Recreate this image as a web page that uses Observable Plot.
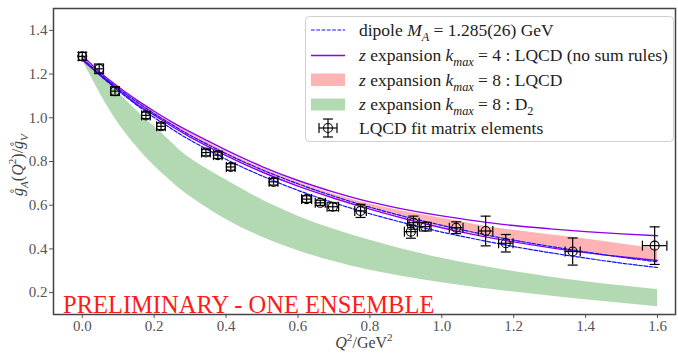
<!DOCTYPE html>
<html>
<head>
<meta charset="utf-8">
<script src="https://cdn.jsdelivr.net/npm/d3@7"></script>
<script src="https://cdn.jsdelivr.net/npm/@observablehq/plot@0.6"></script>
<style>
  html, body { margin: 0; padding: 0; background: white; }
  #chart { width: 678px; height: 354px; }
  #chart svg text, #chart svg tspan { font-family: "Liberation Serif", "Times New Roman", serif; }
</style>
</head>
<body>
<div id="chart"></div>
<script>
// ---- data ----
const q2Grid    = [0, 0.05, 0.1, 0.15, 0.2, 0.25, 0.3, 0.4, 0.5, 0.6, 0.7, 0.8, 0.9, 1.0, 1.1, 1.2, 1.3, 1.4, 1.5, 1.6];
const dipoleLo  = [1.27, 1.194, 1.124, 1.060, 1.001, 0.948, 0.898, 0.810, 0.734, 0.668, 0.611, 0.561, 0.517, 0.477, 0.443, 0.411, 0.383, 0.358, 0.335, 0.315];
const dipoleHi  = [1.27, 1.199, 1.134, 1.074, 1.019, 0.968, 0.920, 0.836, 0.762, 0.698, 0.641, 0.591, 0.547, 0.508, 0.472, 0.440, 0.412, 0.386, 0.362, 0.341];
const k4Hi      = [1.285, 1.207, 1.142, 1.083, 1.03, 0.98, 0.935, 0.852, 0.777, 0.713, 0.66, 0.615, 0.58, 0.551, 0.527, 0.507, 0.492, 0.479, 0.469, 0.46];
const k4Lo      = [1.265, 1.194, 1.128, 1.065, 1.012, 0.96, 0.912, 0.827, 0.752, 0.687, 0.632, 0.582, 0.537, 0.497, 0.462, 0.432, 0.406, 0.383, 0.364, 0.347];
const k8LqcdHi  = [1.28, 1.205, 1.14, 1.08, 1.025, 0.975, 0.93, 0.845, 0.77, 0.705, 0.65, 0.605, 0.57, 0.54, 0.51, 0.485, 0.465, 0.445, 0.422, 0.40];
const k8LqcdLo  = [1.27, 1.197, 1.13, 1.068, 1.015, 0.962, 0.915, 0.83, 0.755, 0.69, 0.635, 0.585, 0.54, 0.50, 0.465, 0.435, 0.41, 0.385, 0.365, 0.347];
const k8D2Hi    = [1.27, 1.195, 1.115, 1.035, 0.96, 0.885, 0.815, 0.715, 0.625, 0.55, 0.49, 0.44, 0.395, 0.357, 0.325, 0.297, 0.272, 0.25, 0.231, 0.214];
const k8D2Lo    = [1.265, 1.11, 0.975, 0.87, 0.78, 0.705, 0.64, 0.535, 0.455, 0.392, 0.342, 0.302, 0.271, 0.245, 0.222, 0.203, 0.185, 0.167, 0.151, 0.136];

const ptQ2      = [0.0, 0.047, 0.091, 0.177, 0.219, 0.344, 0.377, 0.413, 0.532, 0.624, 0.662, 0.697, 0.774, 0.914, 0.921, 0.954, 1.040, 1.122, 1.178, 1.364, 1.592];
const ptQ2Err   = [0.01, 0.012, 0.012, 0.012, 0.012, 0.012, 0.012, 0.012, 0.012, 0.014, 0.014, 0.016, 0.016, 0.018, 0.016, 0.016, 0.019, 0.02, 0.02, 0.021, 0.034];
const ptG       = [1.281, 1.224, 1.122, 1.011, 0.961, 0.841, 0.829, 0.775, 0.707, 0.628, 0.611, 0.593, 0.574, 0.479, 0.520, 0.502, 0.497, 0.482, 0.426, 0.388, 0.415];
const ptGErr    = [0.018, 0.022, 0.02, 0.015, 0.015, 0.015, 0.015, 0.015, 0.015, 0.015, 0.012, 0.018, 0.03, 0.03, 0.03, 0.02, 0.027, 0.068, 0.04, 0.062, 0.086];

const xTicks = [0, 0.2, 0.4, 0.6, 0.8, 1.0, 1.2, 1.4, 1.6];
const yTicks = [0.2, 0.4, 0.6, 0.8, 1.0, 1.2, 1.4];

// ---- tables built from the arrays ----
const curves = q2Grid.map((q, i) => ({
  q, dLo: dipoleLo[i], dHi: dipoleHi[i], k4Hi: k4Hi[i], k4Lo: k4Lo[i],
  pHi: k8LqcdHi[i], pLo: k8LqcdLo[i], gHi: k8D2Hi[i], gLo: k8D2Lo[i]
}));
const pts = ptQ2.map((q, i) => ({
  q, g: ptG[i],
  qLo: q - ptQ2Err[i], qHi: q + ptQ2Err[i], gLo: ptG[i] - ptGErr[i], gHi: ptG[i] + ptGErr[i]
}));

const hcap = {draw(ctx, size) { const r = Math.sqrt(size / Math.PI); ctx.moveTo(-r, 0); ctx.lineTo(r, 0); }};
const vcap = {draw(ctx, size) { const r = Math.sqrt(size / Math.PI); ctx.moveTo(0, -r); ctx.lineTo(0, r); }};

const BLUE = "#1010ff", PURPLE = "#9000e8", PINK = "#ffb3b3", GREEN = "#b3d9b3";

const svg = Plot.plot({
  width: 678, height: 354,
  marginLeft: 53, marginRight: 3, marginTop: 8, marginBottom: 40,
  style: {fontFamily: "Liberation Serif, serif", fontSize: "15px", color: "#555", background: "white"},
  x: {domain: [-0.08, 1.65], ticks: xTicks, tickFormat: d => d.toFixed(1), tickSize: 4, tickPadding: 2, label: null},
  y: {domain: [0.1, 1.5], ticks: yTicks, tickFormat: d => d.toFixed(1), tickSize: 4, tickPadding: 2, label: null},
  marks: [
    Plot.areaY(curves, {x: "q", y1: "gLo", y2: "gHi", fill: GREEN, curve: "natural"}),
    Plot.areaY(curves, {x: "q", y1: "pLo", y2: "pHi", fill: PINK, curve: "natural"}),
    Plot.line(curves, {x: "q", y: "k4Hi", stroke: PURPLE, strokeWidth: 1.4, curve: "natural"}),
    Plot.line(curves, {x: "q", y: "k4Lo", stroke: PURPLE, strokeWidth: 1.4, curve: "natural"}),
    Plot.line(curves, {x: "q", y: "dHi", stroke: BLUE, strokeWidth: 1.2, strokeDasharray: "3.7,1.6", curve: "natural"}),
    Plot.line(curves, {x: "q", y: "dLo", stroke: BLUE, strokeWidth: 1.2, strokeDasharray: "3.7,1.6", curve: "natural"}),
    Plot.ruleX(pts, {x: "q", y1: "gLo", y2: "gHi", stroke: "black", strokeWidth: 1.2}),
    Plot.ruleY(pts, {y: "g", x1: "qLo", x2: "qHi", stroke: "black", strokeWidth: 1.2}),
    Plot.dot(pts, {x: "q", y: "gLo", symbol: hcap, r: 5, stroke: "black", strokeWidth: 1.2, fill: "none"}),
    Plot.dot(pts, {x: "q", y: "gHi", symbol: hcap, r: 5, stroke: "black", strokeWidth: 1.2, fill: "none"}),
    Plot.dot(pts, {x: "qLo", y: "g", symbol: vcap, r: 5, stroke: "black", strokeWidth: 1.2, fill: "none"}),
    Plot.dot(pts, {x: "qHi", y: "g", symbol: vcap, r: 5, stroke: "black", strokeWidth: 1.2, fill: "none"}),
    Plot.dot(pts, {x: "q", y: "g", r: 4.5, stroke: "black", strokeWidth: 1.1, fill: "none"}),
    Plot.frame({stroke: "#444", strokeWidth: 1.5})
  ]
});
document.getElementById("chart").appendChild(svg);

// ---- rich text helper ----
function rich(sel, parts, fs) {
  let shift = 0;
  for (const p of parts) {
    const t = sel.append("tspan").text(p.t);
    if (p.i) t.attr("font-style", "italic");
    const target = p.sub ? fs * 0.3 : p.sup ? -fs * 0.42 : 0;
    if (target !== shift) { t.attr("dy", target - shift); shift = target; }
    if (p.sub || p.sup) t.attr("font-size", fs * 0.7);
  }
}

const s = d3.select(svg);

// axis labels
const xl = s.append("text").attr("x", 364).attr("y", 348).attr("text-anchor", "middle")
  .attr("font-size", 16).attr("fill", "#444");
rich(xl, [{t: "Q", i: true}, {t: "2", sup: true}, {t: "/GeV"}, {t: "2", sup: true}], 16);

const yl = s.append("text").attr("transform", "translate(23,165) rotate(-90)").attr("text-anchor", "middle")
  .attr("font-size", 16).attr("fill", "#444");
rich(yl, [{t: "g\u030A", i: true}, {t: "A", i: true, sub: true}, {t: "("}, {t: "Q", i: true}, {t: "2", sup: true},
          {t: ")/"}, {t: "g\u030A", i: true}, {t: "V", i: true, sub: true}], 16);

// preliminary stamp
s.append("text").attr("x", 63).attr("y", 313).attr("text-anchor", "start").attr("font-size", 24.5)
  .attr("fill", "#ff1a1a").text("PRELIMINARY - ONE ENSEMBLE");

// legend
const LFS = 17.5;
const lg = s.append("g");
lg.append("rect").attr("x", 305.5).attr("y", 16.5).attr("width", 368).attr("height", 125).attr("rx", 4)
  .attr("fill", "white").attr("fill-opacity", 0.85).attr("stroke", "#d0d0d0");
lg.append("line").attr("x1", 311).attr("x2", 345).attr("y1", 30).attr("y2", 30)
  .attr("stroke", BLUE).attr("stroke-width", 1.2).attr("stroke-dasharray", "3.7,1.6");
lg.append("line").attr("x1", 311).attr("x2", 345).attr("y1", 55.5).attr("y2", 55.5)
  .attr("stroke", PURPLE).attr("stroke-width", 1.4);
lg.append("rect").attr("x", 311).attr("y", 73.5).attr("width", 34).attr("height", 12.5).attr("fill", PINK);
lg.append("rect").attr("x", 311).attr("y", 98.5).attr("width", 34).attr("height", 12).attr("fill", GREEN);
const ex = 328, ey = 128;
const seg = (x1, y1, x2, y2) => lg.append("line").attr("x1", x1).attr("y1", y1).attr("x2", x2).attr("y2", y2)
  .attr("stroke", "black").attr("stroke-width", 1.2);
seg(ex - 9, ey, ex + 9, ey); seg(ex, ey - 9, ex, ey + 9);
seg(ex - 5, ey - 9, ex + 5, ey - 9); seg(ex - 5, ey + 9, ex + 5, ey + 9);
seg(ex - 9, ey - 5, ex - 9, ey + 5); seg(ex + 9, ey - 5, ex + 9, ey + 5);
lg.append("circle").attr("cx", ex).attr("cy", ey).attr("r", 4.5).attr("fill", "none").attr("stroke", "black").attr("stroke-width", 1.1);

const legendRows = [
  {y: 35.5, parts: [{t: "dipole "}, {t: "M", i: true}, {t: "A", i: true, sub: true}, {t: " = 1.285(26) GeV"}]},
  {y: 61, parts: [{t: "z", i: true}, {t: " expansion "}, {t: "k", i: true}, {t: "max", i: true, sub: true}, {t: " = 4 : LQCD (no sum rules)"}]},
  {y: 86, parts: [{t: "z", i: true}, {t: " expansion "}, {t: "k", i: true}, {t: "max", i: true, sub: true}, {t: " = 8 : LQCD"}]},
  {y: 110, parts: [{t: "z", i: true}, {t: " expansion "}, {t: "k", i: true}, {t: "max", i: true, sub: true}, {t: " = 8 : D"}, {t: "2", sub: true}]},
  {y: 133.5, parts: [{t: "LQCD fit matrix elements"}]}
];
for (const r of legendRows) {
  const t = lg.append("text").attr("x", 359).attr("y", r.y).attr("text-anchor", "start")
    .attr("font-size", LFS).attr("fill", "#222");
  rich(t, r.parts, LFS);
}
</script>
</body>
</html>
